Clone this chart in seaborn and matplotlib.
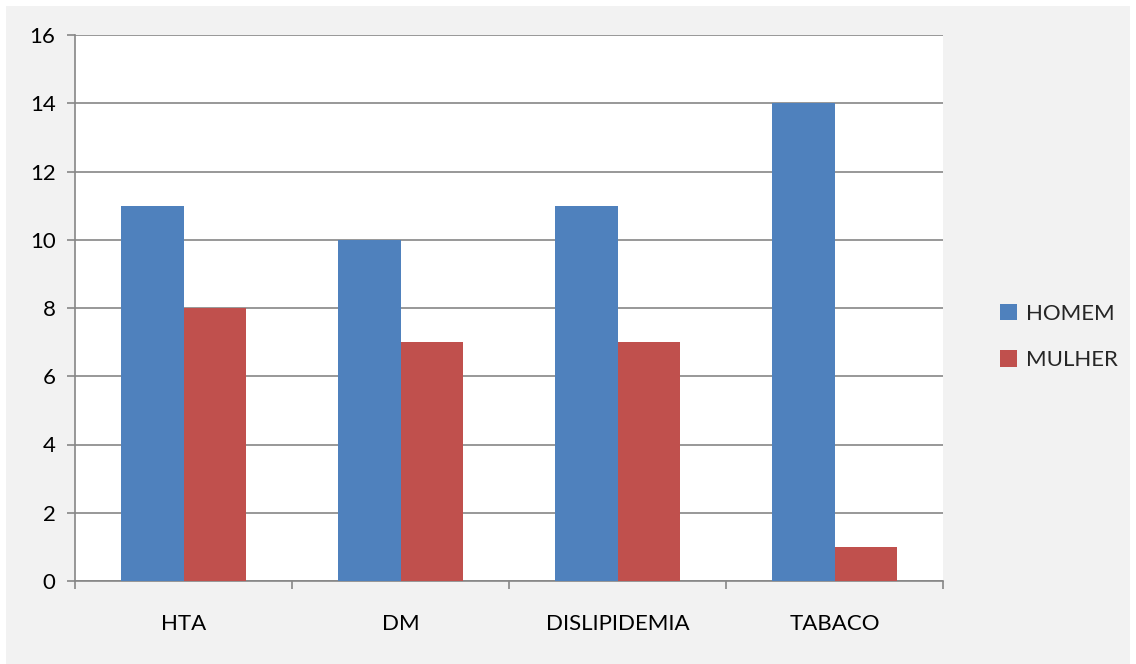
import matplotlib
matplotlib.use("Agg")
import matplotlib.pyplot as plt
import seaborn as sns
import pandas as pd
from matplotlib.patches import Patch, Rectangle

categories = ["HTA", "DM", "DISLIPIDEMIA", "TABACO"]
homem = [11, 10, 11, 14]
mulher = [8, 7, 7, 1]
series_names = ["HOMEM", "MULHER"]
y_ticks = [0, 2, 4, 6, 8, 10, 12, 14, 16]

df = pd.DataFrame({
    "categoria": categories * 2,
    "valor": homem + mulher,
    "sexo": [series_names[0]] * len(categories) + [series_names[1]] * len(categories),
})

sns.set_theme(style="white")
plt.rcParams["font.family"] = ["Lato", "DejaVu Sans"]

palette = {"HOMEM": "#4f81bd", "MULHER": "#c0504d"}

fig = plt.figure(figsize=(11.36, 6.64), dpi=100)
fig.patch.set_facecolor("white")
# grey chart area inside a thin white margin
fig.patches.append(Rectangle((6 / 1136, 0), 1 - 12 / 1136, 1 - 6 / 664,
                             transform=fig.transFigure, facecolor="#f2f2f2",
                             edgecolor="none", zorder=-10))

ax = fig.add_axes([75 / 1136, 1 - 581 / 664, (943 - 75) / 1136, (581 - 35) / 664])
ax.set_facecolor("white")

sns.barplot(data=df, x="categoria", y="valor", hue="sexo", order=categories,
            hue_order=series_names, palette=palette, width=0.572, gap=0,
            saturation=1, errorbar=None, ax=ax, legend=False, zorder=3,
            linewidth=0)

ax.set_ylim(0, 16)
ax.set_xlim(-0.5, len(categories) - 0.5)
ax.set_yticks(y_ticks)
ax.set_yticklabels([str(v) for v in y_ticks])
ax.yaxis.grid(True, color="#868686", linewidth=1.2, zorder=0)
ax.set_axisbelow(True)
ax.set_xlabel("")
ax.set_ylabel("")

for side in ["top", "right"]:
    ax.spines[side].set_visible(False)
for side in ["left", "bottom"]:
    ax.spines[side].set_color("#868686")
    ax.spines[side].set_linewidth(1.2)

ax.tick_params(axis="y", which="major", left=True, length=6, width=1.2,
               color="#868686", labelsize=16, labelcolor="black", pad=8)
ax.tick_params(axis="x", which="major", bottom=False, length=0,
               labelsize=16, labelcolor="black", pad=24)
ax.set_xticks([i - 0.5 for i in range(len(categories) + 1)], minor=True)
ax.tick_params(axis="x", which="minor", bottom=True, length=6, width=1.2,
               color="#868686")

handles = [Patch(facecolor=palette[n], edgecolor="none", label=n) for n in series_names]
fig.legend(handles=handles, loc="center left", bbox_to_anchor=(980 / 1136, 1 - 337 / 664),
           frameon=False, fontsize=16, handlelength=0.75, handleheight=0.75,
           handletextpad=0.4, labelspacing=1.2)

fig.savefig("out.png", dpi=100, facecolor=fig.get_facecolor())
